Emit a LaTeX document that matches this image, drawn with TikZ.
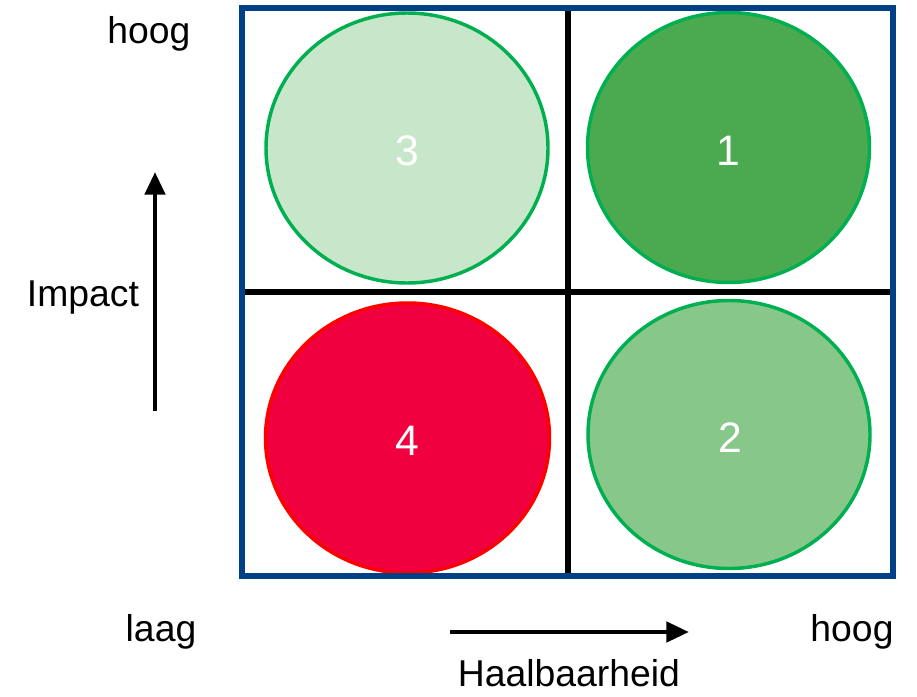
\documentclass[tikz,border=0pt]{standalone}
\usepackage{fontspec}
\setmainfont{Liberation Sans}
\definecolor{frameblue}{RGB}{0,64,134}
\definecolor{ringgreen}{RGB}{0,176,80}
\definecolor{lightg}{RGB}{200,230,201}
\definecolor{darkg}{RGB}{75,170,80}
\definecolor{midg}{RGB}{136,199,138}
\definecolor{redfill}{RGB}{240,0,62}
\begin{document}
\begin{tikzpicture}[x=0.75pt,y=-0.75pt,
  lbl/.style={inner sep=0pt,font=\fontsize{28}{34}\selectfont},
  num/.style={inner sep=0pt,text=white,font=\fontsize{32}{38}\selectfont},
  axisarrow/.style={line width=3.5pt,-{Triangle[length=17pt,width=15pt]}}]
\usetikzlibrary{shapes.geometric,arrows.meta}
\useasboundingbox (0,0) rectangle (917,696);
% quadrant lines
\draw[line width=4pt] (568,8) -- (568,576);
\draw[line width=4pt] (242,292) -- (893,292);
% circles
\fill[lightg] (407,148) ellipse [x radius=141, y radius=135];
\draw[ringgreen,line width=2.6pt] (407,148) ellipse [x radius=141, y radius=135];
\fill[darkg] (728.5,147.5) ellipse [x radius=141, y radius=135];
\draw[ringgreen,line width=2.6pt] (728.5,147.5) ellipse [x radius=141, y radius=135];
\fill[midg] (729,434.5) ellipse [x radius=141, y radius=134];
\draw[ringgreen,line width=2.6pt] (729,434.5) ellipse [x radius=141, y radius=134];
\fill[redfill] (407.5,438) ellipse [x radius=142, y radius=135];
\draw[red,line width=2.6pt] (407.5,438) ellipse [x radius=142, y radius=135];
\node[num] (n3) at (407,151) {3};
\node[num] (n1) at (728,151) {1};
\node[num] (n4) at (407,441) {4};
\node[num] (n2) at (730,438) {2};
% frame
\draw[frameblue,line width=3.8pt] (242,8) rectangle (893,576);
% labels
\node[lbl] (hoogy) at (149,34) {hoog};
\node[lbl] (impact) at (83,298) {Impact};
\node[lbl] (laag) at (161,632) {laag};
\node[lbl] (hoogx) at (852,632) {hoog};
\node[lbl] (haal) at (569,673) {Haalbaarheid};
% arrows
\coordinate (ua) at (155,411);
\coordinate (ub) at (155,172);
\coordinate (ra) at (450,632);
\coordinate (rb) at (689,632);
\draw[axisarrow] (ua) -- (ub);
\draw[axisarrow] (ra) -- (rb);
\end{tikzpicture}
\end{document}
